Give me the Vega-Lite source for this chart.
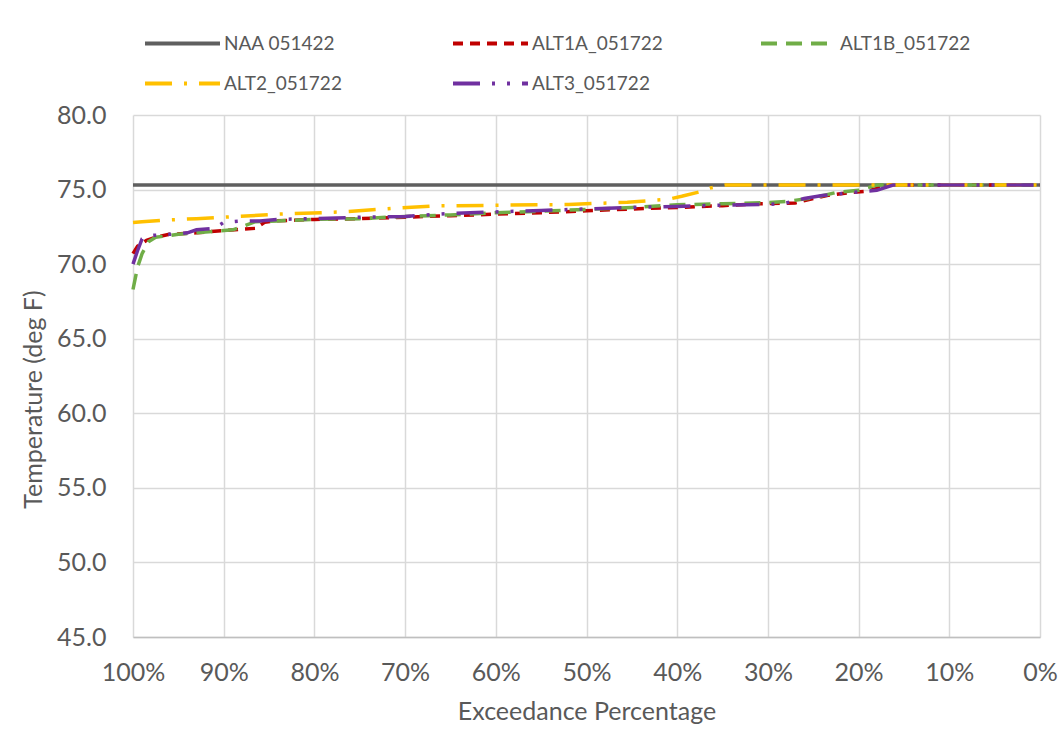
{
  "$schema": "https://vega.github.io/schema/vega-lite/v6.json",
  "width": 907,
  "height": 522,
  "autosize": {"type": "none"},
  "padding": {"left": 133, "top": 115, "right": 23, "bottom": 97},
  "background": "white",
  "config": {
    "font": "Lato",
    "view": {"stroke": null}
  },
  "data": {
    "values": [
      {"series": "NAA 051422", "p": 100, "t": 75.3},
      {"series": "NAA 051422", "p": 0, "t": 75.3},

      {"series": "ALT1A_051722", "p": 100, "t": 70.7},
      {"series": "ALT1A_051722", "p": 99.5, "t": 71.2},
      {"series": "ALT1A_051722", "p": 98.5, "t": 71.6},
      {"series": "ALT1A_051722", "p": 97.5, "t": 71.8},
      {"series": "ALT1A_051722", "p": 96, "t": 72.0},
      {"series": "ALT1A_051722", "p": 93, "t": 72.1},
      {"series": "ALT1A_051722", "p": 91, "t": 72.2},
      {"series": "ALT1A_051722", "p": 88, "t": 72.35},
      {"series": "ALT1A_051722", "p": 86.5, "t": 72.4},
      {"series": "ALT1A_051722", "p": 85.5, "t": 72.8},
      {"series": "ALT1A_051722", "p": 84.5, "t": 72.9},
      {"series": "ALT1A_051722", "p": 80, "t": 73.0},
      {"series": "ALT1A_051722", "p": 75, "t": 73.05},
      {"series": "ALT1A_051722", "p": 70, "t": 73.15},
      {"series": "ALT1A_051722", "p": 65, "t": 73.25},
      {"series": "ALT1A_051722", "p": 60, "t": 73.35},
      {"series": "ALT1A_051722", "p": 55, "t": 73.45},
      {"series": "ALT1A_051722", "p": 50, "t": 73.58},
      {"series": "ALT1A_051722", "p": 45, "t": 73.7},
      {"series": "ALT1A_051722", "p": 40, "t": 73.8},
      {"series": "ALT1A_051722", "p": 35, "t": 73.92},
      {"series": "ALT1A_051722", "p": 31, "t": 74.05},
      {"series": "ALT1A_051722", "p": 27, "t": 74.1},
      {"series": "ALT1A_051722", "p": 25, "t": 74.4},
      {"series": "ALT1A_051722", "p": 23.5, "t": 74.6},
      {"series": "ALT1A_051722", "p": 21, "t": 74.8},
      {"series": "ALT1A_051722", "p": 19, "t": 74.9},
      {"series": "ALT1A_051722", "p": 16.5, "t": 75.3},
      {"series": "ALT1A_051722", "p": 0, "t": 75.3},

      {"series": "ALT1B_051722", "p": 100, "t": 68.3},
      {"series": "ALT1B_051722", "p": 99.5, "t": 69.8},
      {"series": "ALT1B_051722", "p": 99, "t": 70.7},
      {"series": "ALT1B_051722", "p": 98.3, "t": 71.5},
      {"series": "ALT1B_051722", "p": 97.5, "t": 71.8},
      {"series": "ALT1B_051722", "p": 95, "t": 72.0},
      {"series": "ALT1B_051722", "p": 92, "t": 72.15},
      {"series": "ALT1B_051722", "p": 89, "t": 72.3},
      {"series": "ALT1B_051722", "p": 88, "t": 72.5},
      {"series": "ALT1B_051722", "p": 86.5, "t": 72.85},
      {"series": "ALT1B_051722", "p": 84, "t": 72.9},
      {"series": "ALT1B_051722", "p": 80, "t": 73.0},
      {"series": "ALT1B_051722", "p": 75, "t": 73.05},
      {"series": "ALT1B_051722", "p": 70, "t": 73.2},
      {"series": "ALT1B_051722", "p": 65, "t": 73.3},
      {"series": "ALT1B_051722", "p": 60, "t": 73.45},
      {"series": "ALT1B_051722", "p": 55, "t": 73.55},
      {"series": "ALT1B_051722", "p": 50, "t": 73.67},
      {"series": "ALT1B_051722", "p": 45, "t": 73.8},
      {"series": "ALT1B_051722", "p": 40, "t": 73.98},
      {"series": "ALT1B_051722", "p": 35, "t": 74.05},
      {"series": "ALT1B_051722", "p": 30, "t": 74.12},
      {"series": "ALT1B_051722", "p": 28, "t": 74.2},
      {"series": "ALT1B_051722", "p": 25, "t": 74.45},
      {"series": "ALT1B_051722", "p": 22.5, "t": 74.8},
      {"series": "ALT1B_051722", "p": 20, "t": 74.95},
      {"series": "ALT1B_051722", "p": 18, "t": 75.3},
      {"series": "ALT1B_051722", "p": 0, "t": 75.3},

      {"series": "ALT2_051722", "p": 100, "t": 72.8},
      {"series": "ALT2_051722", "p": 99, "t": 72.85},
      {"series": "ALT2_051722", "p": 96.5, "t": 72.95},
      {"series": "ALT2_051722", "p": 93, "t": 73.05},
      {"series": "ALT2_051722", "p": 90, "t": 73.15},
      {"series": "ALT2_051722", "p": 84, "t": 73.35},
      {"series": "ALT2_051722", "p": 77, "t": 73.5},
      {"series": "ALT2_051722", "p": 71, "t": 73.75},
      {"series": "ALT2_051722", "p": 67, "t": 73.9},
      {"series": "ALT2_051722", "p": 60, "t": 73.95},
      {"series": "ALT2_051722", "p": 52, "t": 74.0},
      {"series": "ALT2_051722", "p": 45.5, "t": 74.15},
      {"series": "ALT2_051722", "p": 41, "t": 74.35},
      {"series": "ALT2_051722", "p": 39.5, "t": 74.55},
      {"series": "ALT2_051722", "p": 37.5, "t": 74.85},
      {"series": "ALT2_051722", "p": 36.4, "t": 75.1},
      {"series": "ALT2_051722", "p": 34.7, "t": 75.3},
      {"series": "ALT2_051722", "p": 0, "t": 75.3},

      {"series": "ALT3_051722", "p": 100, "t": 70.0},
      {"series": "ALT3_051722", "p": 99.5, "t": 70.9},
      {"series": "ALT3_051722", "p": 99, "t": 71.7},
      {"series": "ALT3_051722", "p": 98.5, "t": 71.9},
      {"series": "ALT3_051722", "p": 96, "t": 72.0},
      {"series": "ALT3_051722", "p": 94, "t": 72.1},
      {"series": "ALT3_051722", "p": 93, "t": 72.3},
      {"series": "ALT3_051722", "p": 91, "t": 72.4},
      {"series": "ALT3_051722", "p": 90, "t": 72.8},
      {"series": "ALT3_051722", "p": 88, "t": 72.9},
      {"series": "ALT3_051722", "p": 86, "t": 72.9},
      {"series": "ALT3_051722", "p": 84, "t": 73.0},
      {"series": "ALT3_051722", "p": 80, "t": 73.05},
      {"series": "ALT3_051722", "p": 75, "t": 73.15},
      {"series": "ALT3_051722", "p": 70, "t": 73.2},
      {"series": "ALT3_051722", "p": 65, "t": 73.4},
      {"series": "ALT3_051722", "p": 60, "t": 73.5},
      {"series": "ALT3_051722", "p": 55, "t": 73.6},
      {"series": "ALT3_051722", "p": 50, "t": 73.7},
      {"series": "ALT3_051722", "p": 45, "t": 73.8},
      {"series": "ALT3_051722", "p": 40, "t": 73.87},
      {"series": "ALT3_051722", "p": 35, "t": 73.96},
      {"series": "ALT3_051722", "p": 30, "t": 74.0},
      {"series": "ALT3_051722", "p": 28, "t": 74.1},
      {"series": "ALT3_051722", "p": 26, "t": 74.4},
      {"series": "ALT3_051722", "p": 24, "t": 74.6},
      {"series": "ALT3_051722", "p": 20, "t": 74.85},
      {"series": "ALT3_051722", "p": 18, "t": 74.95},
      {"series": "ALT3_051722", "p": 16.2, "t": 75.3},
      {"series": "ALT3_051722", "p": 0, "t": 75.3}
    ]
  },
  "mark": {"type": "line", "strokeWidth": 3.5, "strokeCap": "butt"},
  "encoding": {
    "x": {
      "field": "p",
      "type": "quantitative",
      "scale": {"domain": [100, 0], "nice": false, "zero": false},
      "axis": {
        "title": "Exceedance Percentage",
        "values": [100, 90, 80, 70, 60, 50, 40, 30, 20, 10, 0],
        "labelExpr": "datum.value + '%'",
        "labelFlush": false,
        "labelFontSize": 25,
        "labelColor": "#595959",
        "labelPadding": 23,
        "titleFontSize": 25,
        "titleFontWeight": "normal",
        "titleColor": "#595959",
        "titlePadding": 14,
        "grid": true,
        "gridColor": "#d9d9d9",
        "gridWidth": 1.5,
        "domainColor": "#bfbfbf",
        "domainWidth": 1.5,
        "ticks": false
      }
    },
    "y": {
      "field": "t",
      "type": "quantitative",
      "scale": {"domain": [45, 80], "nice": false, "zero": false},
      "axis": {
        "title": "Temperature (deg F)",
        "values": [45, 50, 55, 60, 65, 70, 75, 80],
        "format": ".1f",
        "labelFontSize": 25,
        "labelColor": "#595959",
        "labelPadding": 27,
        "titleFontSize": 25,
        "titleFontWeight": "normal",
        "titleColor": "#595959",
        "titlePadding": 10,
        "titleY": 284,
        "grid": true,
        "gridColor": "#d9d9d9",
        "gridWidth": 1.5,
        "domain": false,
        "ticks": false
      }
    },
    "color": {
      "field": "series",
      "type": "nominal",
      "scale": {
        "domain": ["NAA 051422", "ALT1A_051722", "ALT1B_051722", "ALT2_051722", "ALT3_051722"],
        "range": ["#5f5f5f", "#c00000", "#70ad47", "#ffc000", "#7030a0"]
      },
      "legend": {
        "title": null,
        "orient": "none",
        "legendX": 10,
        "legendY": -84,
        "direction": "horizontal",
        "columns": 3,
        "gridAlign": "all",
        "columnPadding": 96,
        "rowPadding": 15,
        "clipHeight": 25,
        "symbolType": "stroke",
        "symbolSize": 5625,
        "symbolStrokeWidth": 4,
        "labelFontSize": 19,
        "labelColor": "#595959",
        "labelOffset": 2,
        "labelLimit": 300
      }
    },
    "strokeDash": {
      "field": "series",
      "type": "nominal",
      "scale": {
        "domain": ["NAA 051422", "ALT1A_051722", "ALT1B_051722", "ALT2_051722", "ALT3_051722"],
        "range": [[1, 0], [10, 7], [16, 9], [27, 12, 3, 12], [27, 12, 3, 12, 3, 12]]
      },
      "legend": {
        "title": null,
        "orient": "none",
        "legendX": 10,
        "legendY": -84,
        "direction": "horizontal",
        "columns": 3,
        "gridAlign": "all",
        "columnPadding": 96,
        "rowPadding": 15,
        "clipHeight": 25,
        "symbolType": "stroke",
        "symbolSize": 5625,
        "symbolStrokeWidth": 4,
        "labelFontSize": 19,
        "labelColor": "#595959",
        "labelOffset": 2,
        "labelLimit": 300
      }
    }
  }
}
